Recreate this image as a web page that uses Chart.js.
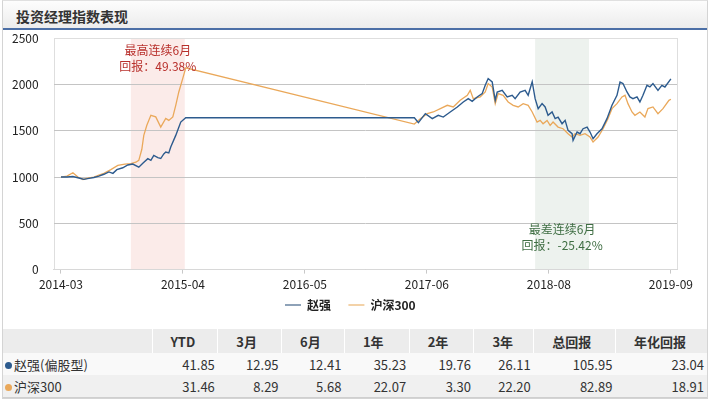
<!DOCTYPE html>
<html>
<head>
<meta charset="utf-8">
<script src="https://cdn.jsdelivr.net/npm/chart.js@4/dist/chart.umd.min.js"></script>
<style>
  body { margin: 0; background: #fff; font-family: "Microsoft YaHei", "Noto Sans CJK SC", sans-serif; }
  #box { position: absolute; left: 2px; top: 0; width: 704px; height: 397px; border: 1px solid #d4d4d4; border-top-color: #e0e0e0; }
  #title { position: absolute; left: 0; top: 0; width: 704px; height: 27px; background: linear-gradient(#fdfdfd, #ececec); border-bottom: 2px solid #4c6fa6; }
  #title span { position: absolute; left: 13px; top: 5px; font-size: 14px; font-weight: bold; color: #333; }
  #wrap { position: absolute; left: -3px; top: 15px; width: 712px; height: 305px; }
  table { position: absolute; left: 0; top: 328px; border-collapse: collapse; table-layout: fixed; font-size: 13px; color: #333; }
  th { background: #ececec; font-weight: bold; text-align: left; padding: 0 0 0 18px; height: 24px; border-left: 1px solid #fff; }
  td { text-align: right; padding: 0 3px 0 0; height: 22px; }
  td.name { text-align: left; padding-left: 2px; }
  tr.r1 td { background: #f9f9f9; }
  tr.r2 td { background: #f0f0f0; border-bottom: 1px solid #cfcfcf; }
  .dot { display: inline-block; width: 7px; height: 7px; border-radius: 50%; margin-right: 2px; vertical-align: 1px; }
</style>
</head>
<body>
<div id="box">
  <div id="title"><span>投资经理指数表现</span></div>
  <div id="wrap"><canvas id="idxChart"></canvas></div>
  <table id="stats"></table>
</div>
<script>
// axis position: 0 = 2014-03, 1 = 2015-04 ... (evenly spaced tick labels)
const xLabels = ["2014-03", "2015-04", "2016-05", "2017-06", "2018-08", "2019-09"];
const yTicks = [0, 500, 1000, 1500, 2000, 2500];

const zhaoX = [0, 0.049, 0.098, 0.147, 0.188, 0.229, 0.270, 0.311, 0.352, 0.393, 0.426, 0.458, 0.507, 0.548, 0.589,
  0.638, 0.671, 0.712, 0.737, 0.761, 0.794, 0.818, 0.843, 0.859, 0.884, 0.900, 0.941, 0.982, 1.023,
  2.897, 2.930, 2.987, 3.044, 3.093, 3.134, 3.191, 3.249, 3.298, 3.339, 3.371, 3.412, 3.453, 3.478, 3.502,
  3.535, 3.560, 3.576, 3.617, 3.658, 3.699, 3.723, 3.764, 3.805, 3.830, 3.863, 3.887, 3.912, 3.944, 3.969,
  3.993, 4.026, 4.051, 4.075, 4.108, 4.133, 4.157, 4.190, 4.198, 4.231, 4.255, 4.280, 4.313, 4.337, 4.362,
  4.394, 4.435, 4.476, 4.517, 4.558, 4.583, 4.607, 4.640, 4.664, 4.689, 4.722, 4.746, 4.771, 4.804, 4.828,
  4.853, 4.894, 4.926, 4.951, 5.0];
const zhaoY = [1000, 1000, 1005, 990, 975, 985, 995, 1010, 1030, 1055, 1040, 1080, 1100, 1130, 1140,
  1107, 1150, 1198, 1180, 1234, 1210, 1200, 1250, 1270, 1260, 1324, 1450, 1594, 1640,
  1640, 1588, 1685, 1631, 1667, 1648, 1703, 1757, 1811, 1847, 1818, 1865, 1901, 1991, 2064,
  2027, 1829, 1919, 1937, 1865, 1883, 1847, 1919, 1937, 1883, 2030, 1847, 1739, 1793, 1757,
  1667, 1703, 1631, 1648, 1576, 1612, 1504, 1468, 1396, 1486, 1468, 1522, 1540, 1486, 1414,
  1468, 1522, 1631, 1775, 1883, 2027, 2010, 1919, 1865, 1847, 1865, 1811, 1883, 1991, 1973,
  2010, 1937, 1991, 1973, 2060];

const hsX = [0, 0.049, 0.098, 0.139, 0.180, 0.229, 0.270, 0.311, 0.352, 0.409, 0.466, 0.524, 0.573, 0.614,
  0.638, 0.663, 0.679, 0.704, 0.737, 0.777, 0.818, 0.859, 0.884, 0.917, 0.941, 0.966, 0.998, 1.023,
  2.897, 2.946, 3.003, 3.052, 3.110, 3.167, 3.216, 3.273, 3.331, 3.355, 3.380, 3.437, 3.478, 3.502, 3.535,
  3.560, 3.584, 3.625, 3.666, 3.707, 3.748, 3.789, 3.830, 3.863, 3.903, 3.928, 3.952, 3.985, 4.010, 4.034,
  4.075, 4.116, 4.157, 4.190, 4.214, 4.255, 4.296, 4.337, 4.362, 4.403, 4.444, 4.484, 4.517, 4.558, 4.599,
  4.624, 4.648, 4.681, 4.705, 4.746, 4.787, 4.812, 4.853, 4.894, 4.935, 4.984, 5.0];
const hsY = [1000, 1010, 1046, 1000, 974, 990, 1000, 1020, 1040, 1080, 1125, 1140, 1144, 1160,
  1180, 1300, 1450, 1560, 1667, 1650, 1540, 1634, 1612, 1650, 1775, 1919, 2063, 2180,
  1572, 1631, 1685, 1703, 1739, 1775, 1757, 1829, 1883, 1937, 1847, 1865, 1919, 2010, 1973,
  1793, 1901, 1883, 1811, 1775, 1757, 1793, 1775, 1703, 1594, 1612, 1576, 1612, 1558, 1594,
  1540, 1522, 1468, 1432, 1468, 1450, 1468, 1432, 1378, 1432, 1522, 1631, 1739, 1793, 1865,
  1883, 1793, 1703, 1667, 1703, 1648, 1739, 1757, 1685, 1739, 1829, 1840];

const seriesNames = ["赵强", "沪深300"];
const bestRange = [0.573, 1.015];
const worstRange = [3.887, 4.329];
const bestText = ["最高连续6月", "回报：49.38%"];
const worstText = ["最差连续6月", "回报：-25.42%"];

const tableHeads = ["", "YTD", "3月", "6月", "1年", "2年", "3年", "总回报", "年化回报"];
const rowNames = ["赵强(偏股型)", "沪深300"];
const zhaoStats = ["41.85", "12.95", "12.41", "35.23", "19.76", "26.11", "105.95", "23.04"];
const hsStats = ["31.46", "8.29", "5.68", "22.07", "3.30", "22.20", "82.89", "18.91"];

const blue = "#2d5b8e";
const orange = "#eaa85a";
const font = '"Microsoft YaHei", "Noto Sans CJK SC", sans-serif';
// trailing gaps widen the legend items so they sit where the original ones do
const legendGap = ["\u3000\u2009", "\u3000\u3000\u2002"];

// shaded ranges, plot frame and the two notes
const notes = {
  id: "notes",
  beforeDraw(chart) {
    const { ctx, chartArea: a, scales } = chart;
    const x = scales.x;
    ctx.save();
    ctx.fillStyle = "#fbebe9";
    let l = x.getPixelForValue(bestRange[0]), r = x.getPixelForValue(bestRange[1]);
    ctx.fillRect(l, a.top, r - l, a.bottom - a.top);
    ctx.fillStyle = "#edf2ee";
    l = x.getPixelForValue(worstRange[0]); r = x.getPixelForValue(worstRange[1]);
    ctx.fillRect(l, a.top, r - l, a.bottom - a.top);
    ctx.strokeStyle = "#dedede";
    ctx.lineWidth = 1;
    ctx.strokeRect(Math.round(a.left) + 0.5, Math.round(a.top) + 0.5, Math.round(a.right - a.left), Math.round(a.bottom - a.top));
    ctx.restore();
  },
  afterDatasetsDraw(chart) {
    const { ctx, chartArea: a, scales } = chart;
    const x = scales.x;
    ctx.save();
    ctx.font = "12px " + font;
    ctx.textAlign = "center";
    ctx.textBaseline = "middle";
    ctx.fillStyle = "#b8302c";
    let cx = x.getPixelForValue((bestRange[0] + bestRange[1]) / 2);
    ctx.fillText(bestText[0], cx, a.top + 12);
    ctx.fillText(bestText[1], cx, a.top + 28);
    ctx.fillStyle = "#3f6e43";
    cx = x.getPixelForValue((worstRange[0] + worstRange[1]) / 2);
    ctx.fillText(worstText[0], cx, a.bottom - 40);
    ctx.fillText(worstText[1], cx, a.bottom - 24);
    ctx.restore();
  }
};

new Chart(document.getElementById("idxChart"), {
  type: "line",
  data: {
    datasets: [
      { label: seriesNames[0], data: zhaoX.map((v, i) => ({ x: v, y: zhaoY[i] })), borderColor: blue, backgroundColor: blue, borderWidth: 1.4, pointRadius: 0, pointStyle: "line" },
      { label: seriesNames[1], data: hsX.map((v, i) => ({ x: v, y: hsY[i] })), borderColor: orange, backgroundColor: orange, borderWidth: 1.3, pointRadius: 0, pointStyle: "line" }
    ]
  },
  plugins: [notes],
  options: {
    responsive: true,
    maintainAspectRatio: false,
    animation: false,
    // the y tick padding is counted twice in the axis width, so pull left by that much
    layout: { padding: { left: -3, right: 35, top: 0, bottom: 0 } },
    scales: {
      x: {
        type: "linear",
        min: -0.06,
        max: 5.05,
        afterBuildTicks: (s) => { s.ticks = xLabels.map((_, i) => ({ value: i })); },
        afterFit: (s) => { s.paddingLeft = 0; s.paddingRight = 0; },
        ticks: { callback: (v) => xLabels[v], color: "#222", font: { size: 12, family: font }, padding: 4, maxRotation: 0 },
        grid: { drawOnChartArea: false, tickLength: 4, color: "#c8c8c8" },
        border: { color: "#d8d8d8" }
      },
      y: {
        min: 0,
        max: 2500,
        afterBuildTicks: (s) => { s.ticks = yTicks.map((v) => ({ value: v })); },
        ticks: { callback: (v) => String(v), color: "#222", font: { size: 12, family: font }, padding: 15 },
        grid: { drawTicks: false, color: (c) => (c.tick.value === 2500 ? "#dedede" : "#c4c4c4") },
        border: { display: false }
      }
    },
    plugins: {
      legend: {
        position: "bottom",
        fullSize: false,
        labels: {
          usePointStyle: true,
          pointStyleWidth: 16,
          boxHeight: 12,
          padding: 3,
          color: "#222",
          font: { size: 12, weight: "bold", family: font },
          generateLabels: (chart) => chart.data.datasets.map((d, i) => ({
            text: d.label + legendGap[i], datasetIndex: i, pointStyle: "line", lineWidth: 2,
            strokeStyle: i === 0 ? "#8ea2b8" : "#f3d2a8", fillStyle: "transparent", fontColor: "#222"
          }))
        }
      },
      tooltip: { enabled: false }
    }
  }
});

// stats table
const tbl = document.getElementById("stats");
const colW = [150, 66, 64, 63, 65, 65, 60, 82, 92];
let html = "<colgroup>" + colW.map((w) => '<col style="width:' + w + 'px">').join("") + "</colgroup>";
html += "<tr>" + tableHeads.map((h, i) => "<th" + (i === 0 ? ' style="border-left:none"' : "") + ">" + h + "</th>").join("") + "</tr>";
[zhaoStats, hsStats].forEach((row, r) => {
  html += '<tr class="r' + (r + 1) + '"><td class="name"><span class="dot" style="background:' + (r === 0 ? blue : orange) + '"></span>' + rowNames[r] + "</td>";
  html += row.map((v) => "<td>" + v + "</td>").join("") + "</tr>";
});
tbl.innerHTML = html;
</script>
</body>
</html>
